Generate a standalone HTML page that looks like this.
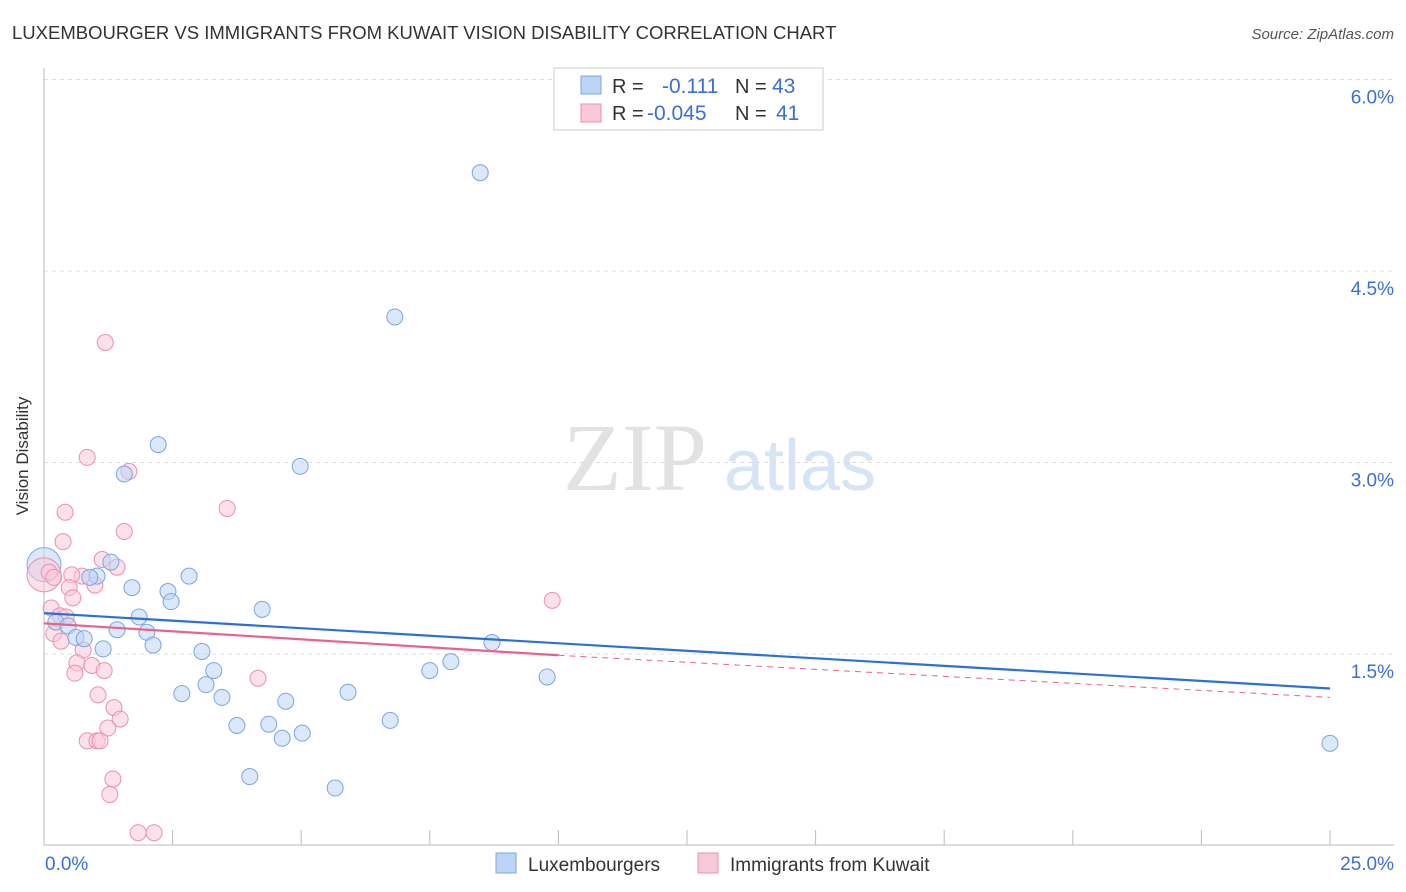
<!DOCTYPE html>
<html><head><meta charset="utf-8"><style>
body{margin:0;background:#fff;font-family:"Liberation Sans",sans-serif;}
svg{display:block}
</style></head><body>
<svg id="chart" width="1406" height="892" viewBox="0 0 1406 892">
<text x="12" y="39" font-size="18.5" fill="#333">LUXEMBOURGER VS IMMIGRANTS FROM KUWAIT VISION DISABILITY CORRELATION CHART</text>
<text x="1394" y="39" font-size="15" fill="#555" font-style="italic" text-anchor="end">Source: ZipAtlas.com</text>
<text x="34" y="456" font-size="17" fill="#333" text-anchor="middle" transform="rotate(-90 34 456) translate(0,-6)">Vision Disability</text>
<g>
<text x="635" y="490" font-size="96" fill="#e2e2e2" font-family="Liberation Serif,serif" text-anchor="middle">ZIP</text>
<text x="800" y="490" font-size="72" fill="#d6e4f5" text-anchor="middle">atlas</text>
</g>
<g id="grid"></g>
<g id="axes"></g>
<g id="marks"></g>
<g>
<rect x="554" y="68" width="269" height="62" fill="#fff" stroke="#ccc"/>
<rect x="581" y="76" width="20" height="18" fill="#bcd5f5" stroke="#7aa6e0"/>
<rect x="581" y="104" width="20" height="18" fill="#f9c8d8" stroke="#ea8fb0"/>
<text x="612" y="93" font-size="20" fill="#333">R = </text><text x="662" y="93" font-size="21" fill="#3a6fd8">-0.111</text>
<text x="735" y="93" font-size="20" fill="#333">N = </text><text x="772" y="93" font-size="21" fill="#3a6fd8">43</text>
<text x="612" y="120" font-size="20" fill="#333">R = </text><text x="647" y="120" font-size="21" fill="#3a6fd8">-0.045</text>
<text x="735" y="120" font-size="20" fill="#333">N = </text><text x="776" y="120" font-size="21" fill="#3a6fd8">41</text>
</g>
<g>
<rect x="496" y="853" width="20" height="20" fill="#bcd5f5" stroke="#7aa6e0"/>
<text x="528" y="871" font-size="19" fill="#333">Luxembourgers</text>
<rect x="698" y="853" width="20" height="20" fill="#f9c8d8" stroke="#ea8fb0"/>
<text x="730" y="871" font-size="19" fill="#333">Immigrants from Kuwait</text>
</g>
</svg>
<script>
const yTicks=[1.5,3.0,4.5,6.0];
const xTickLabels=["0.0%","25.0%"];
const blueX=[8.48,6.82,2.22,1.56,4.98,1.30,1.03,0.89,2.82,1.71,2.41,2.47,4.24,1.85,0.23,0.47,1.42,2.00,0.62,0.78,2.12,8.71,1.15,3.07,7.91,7.50,3.30,9.78,3.15,2.68,3.46,5.91,4.70,6.73,3.75,4.37,5.02,4.63,4.00,5.66,25.0];
const blueY=[5.27,4.14,3.14,2.91,2.97,2.22,2.11,2.10,2.11,2.02,1.99,1.91,1.85,1.79,1.75,1.72,1.69,1.67,1.63,1.62,1.57,1.59,1.54,1.52,1.44,1.37,1.37,1.32,1.26,1.19,1.16,1.20,1.13,0.98,0.94,0.95,0.88,0.84,0.54,0.45,0.80];
const pinkX=[1.19,0.84,1.65,3.56,0.41,1.56,0.37,1.13,1.42,0.10,0.19,0.74,0.54,0.49,0.99,0.56,9.88,0.14,0.31,0.43,0.19,0.33,0.76,0.64,0.93,0.60,1.17,4.16,1.05,1.36,1.48,1.24,0.84,1.03,1.09,1.34,1.28,1.83,2.14];
const pinkY=[3.94,3.04,2.93,2.64,2.61,2.46,2.38,2.24,2.18,2.14,2.10,2.11,2.12,2.02,2.04,1.94,1.92,1.86,1.80,1.79,1.66,1.60,1.53,1.43,1.41,1.35,1.37,1.31,1.18,1.08,0.99,0.92,0.82,0.82,0.82,0.52,0.40,0.10,0.10];
const bigBlue=[0,2.20], bigPink=[0,2.12];
const blueTrend=[1.82,1.23], pinkTrend=[1.74,1.49,1.16];
const X=v=>44+v/25*1286, Y=v=>845.5-v/1.5*191.5;
const NS="http://www.w3.org/2000/svg";
function mk(t,a,p){const e=document.createElementNS(NS,t);for(const k in a)e.setAttribute(k,a[k]);p.appendChild(e);return e;}
const grid=document.getElementById('grid'),axes=document.getElementById('axes'),marks=document.getElementById('marks');
yTicks.forEach(v=>{
 const l=mk('line',{x1:44,x2:1394,y1:Y(v),y2:Y(v),stroke:'#ddd','stroke-dasharray':'4,4'},grid);
 
 
 const t=mk('text',{x:1394,y:Y(v)+24,'font-size':19,fill:'#3a6fd8','text-anchor':'end'},axes);
 t.textContent=v.toFixed(1)+'%';
 
 
});
mk('line',{x1:44,x2:44,y1:68,y2:845,stroke:'#bbb'},axes);
const xa=mk('line',{x1:44,x2:1394,y1:845,y2:845,stroke:'#bbb'},axes);


for(let i=1;i<=10;i++){mk('line',{x1:X(i*2.5),x2:X(i*2.5),y1:830,y2:845,stroke:'#bbb'},axes);}
const xl0=mk('text',{x:45,y:870,'font-size':19,fill:'#3a6fd8'},axes);xl0.textContent=xTickLabels[0];


const xl1=mk('text',{x:1394,y:870,'font-size':19,fill:'#3a6fd8','text-anchor':'end'},axes);xl1.textContent=xTickLabels[1];


function dot(x,y,r,fill,stroke,name){const c=mk('circle',{cx:X(x),cy:Y(y),r:r,fill:fill,'fill-opacity':0.55,stroke:stroke,'stroke-width':1},marks);
 
 }
dot(bigBlue[0],bigBlue[1],17,'#bcd5f5','#7aa6e0','blue-point');
dot(bigPink[0],bigPink[1],17,'#f9c8d8','#ea8fb0','pink-point');
pinkX.forEach((x,i)=>dot(x,pinkY[i],8,'#f9c8d8','#ea8fb0','pink-point'));
blueX.forEach((x,i)=>dot(x,blueY[i],8,'#bcd5f5','#7aa6e0','blue-point'));
const bt=mk('line',{x1:X(0),y1:Y(blueTrend[0]),x2:X(25),y2:Y(blueTrend[1]),stroke:'#2c6fd8','stroke-width':2.2},marks);


const pt=mk('line',{x1:X(0),y1:Y(pinkTrend[0]),x2:X(10),y2:Y(pinkTrend[1]),stroke:'#e8628f','stroke-width':2.2},marks);


const pd=mk('line',{x1:X(10),y1:Y(pinkTrend[1]),x2:X(25),y2:Y(pinkTrend[2]),stroke:'#e8628f','stroke-width':1,'stroke-dasharray':'6,5'},marks);


</script>
</body></html>
